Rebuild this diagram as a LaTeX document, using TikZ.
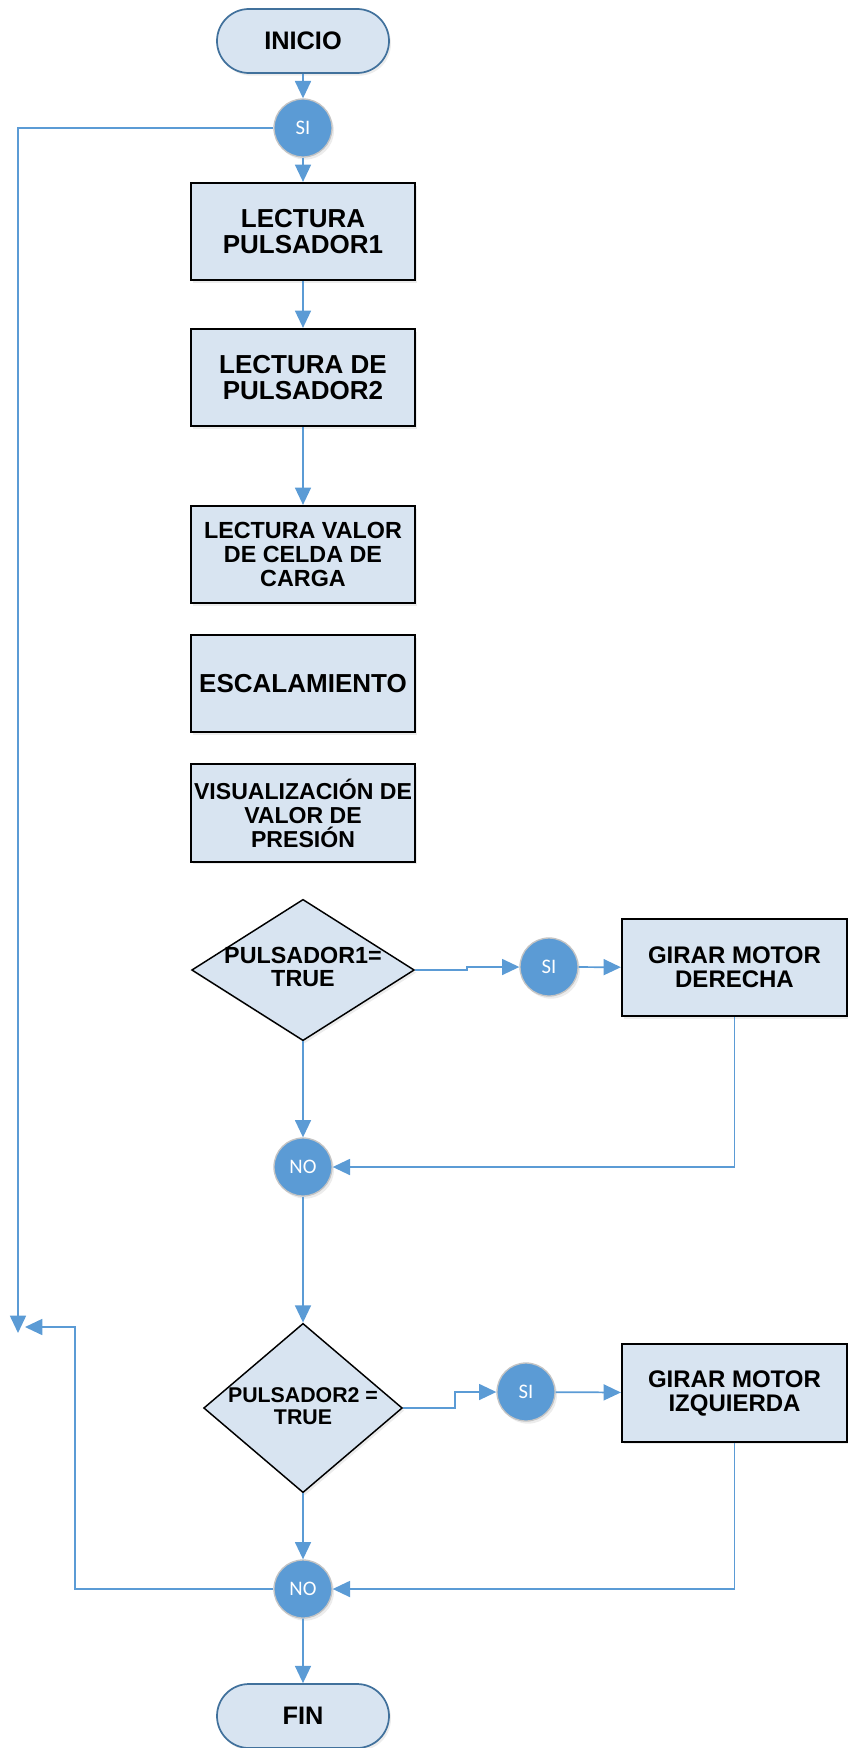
\documentclass[tikz,border=0pt]{standalone}
\usepackage{fontspec}
\setmainfont{Liberation Sans}
\newfontfamily\circfont{Carlito}
\usetikzlibrary{shapes.geometric,shapes.misc,arrows.meta,shadows}
\definecolor{flowblue}{RGB}{91,155,213}
\definecolor{boxfill}{RGB}{216,228,241}
\definecolor{termline}{RGB}{65,113,156}
\definecolor{ringgray}{RGB}{196,196,196}

\begin{document}
\begin{tikzpicture}[x=0.75pt,y=-0.75pt,
		soft/.style={drop shadow={opacity=0.15,shadow xshift=1.5pt,shadow yshift=-2pt}},
		proc/.style={rectangle,draw=black,line width=1.4pt,fill=boxfill,soft,minimum width=168pt,minimum height=73pt,inner sep=0pt,align=center,font=\bfseries\fontsize{19.5}{19.5}\selectfont},
		motor/.style={proc,minimum width=169pt,font=\bfseries\fontsize{18}{18}\selectfont},
		term/.style={rounded rectangle,draw=termline,line width=1.3pt,fill=boxfill,soft,minimum width=129pt,minimum height=48pt,inner sep=0pt,font=\bfseries\fontsize{19}{19}\selectfont},
		dot/.style={circle,draw=ringgray,line width=1pt,fill=flowblue,soft,minimum size=43.5pt,inner sep=0pt,text=white,font=\circfont\fontsize{15.5}{15.5}\selectfont},
		decision/.style={diamond,draw=black,line width=1.1pt,fill=boxfill,soft,inner sep=0pt},
		dtext/.style={align=center,inner sep=0pt,font=\bfseries\fontsize{17.5}{17.5}\selectfont},
		flow/.style={color=flowblue,line width=1.3pt,-{Triangle[length=13pt,width=12pt,fill=flowblue]}}]
	\useasboundingbox (0,0) rectangle (848,1748);
	\draw (303,41) node [term] (ini) {INICIO};
	\draw (303,128) node [dot] (s1) {SI};
	\draw (303,231.5) node [proc] (b1) {LECTURA\\PULSADOR1};
	\draw (303,377.5) node [proc] (b2) {LECTURA DE\\PULSADOR2};
	\draw (303,554.5) node [proc,font=\bfseries\fontsize{17.5}{18}\selectfont] (b3) {LECTURA VALOR\\DE CELDA DE\\CARGA};
	\draw (303,683.5) node [proc] (b4) {ESCALAMIENTO};
	\draw (303,813) node [proc,font=\bfseries\fontsize{17.3}{18}\selectfont] (b5) {VISUALIZACIÓN DE\\VALOR DE\\PRESIÓN};
	\draw (303,970) node [decision,minimum width=167pt,minimum height=106pt] (p1) {};
	\draw (303,967) node [dtext] (p1t) {PULSADOR1=\\TRUE};
	\draw (549,967) node [dot] (s2) {SI};
	\draw (734.5,967.5) node [motor] (m1) {GIRAR MOTOR\\DERECHA};
	\draw (303,1167) node [dot] (n1) {NO};
	\draw (303,1408) node [decision,minimum width=149pt,minimum height=127pt] (p2) {};
	\draw (303,1406) node [dtext,font=\bfseries\fontsize{16}{16}\selectfont] (p2t) {PULSADOR2 =\\TRUE};
	\draw (526,1392) node [dot] (s3) {SI};
	\draw (734.5,1393) node [motor] (m2) {GIRAR MOTOR\\IZQUIERDA};
	\draw (303,1589) node [dot] (n2) {NO};
	\draw (303,1716) node [term] (fin) {FIN};
	\coordinate (rt) at (18,1333);
	\coordinate (bk) at (75,1327);
	\coordinate (back) at (25,1327);
	\path[flow]
		(ini) edge (s1)
		(s1) edge (b1)
		(b1) edge (b2)
		(b2) edge (b3)
		(p1) edge (n1)
		(s2) edge (m1)
		(n1) edge (p2)
		(p2) edge (n2)
		(s3) edge (m2)
		(n2) edge (fin);
	\draw[flow] (p1.east) -- ++(52,0) |- (s2.west);
	\draw[flow] (p2.east) -- ++(52,0) |- (s3.west);
	\draw[flow] (m1.south) |- (n1.east);
	\draw[flow] (m2.south) |- (n2.east);
	\draw[flow] (s1.west) -| (rt);
	\draw[flow] (n2.west) -| (bk) -- (back);
\end{tikzpicture}
\end{document}
